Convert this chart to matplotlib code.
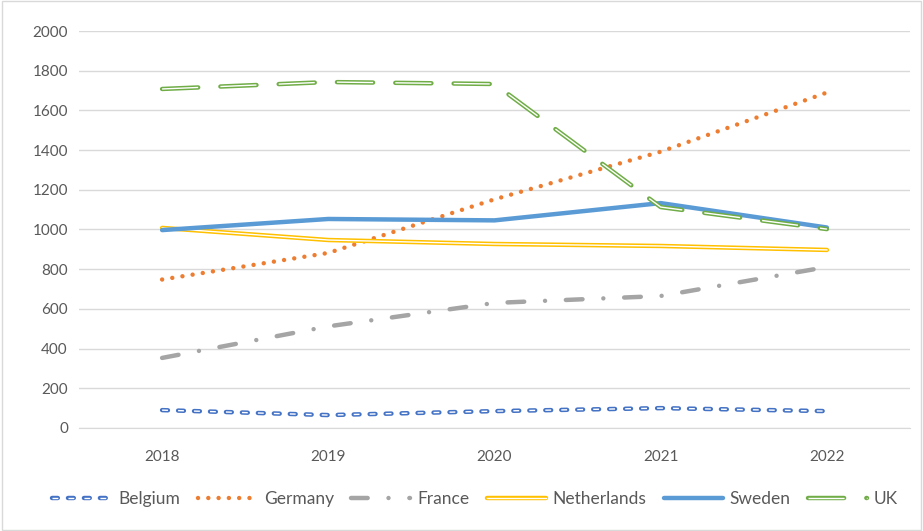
import matplotlib.pyplot as plt
import matplotlib.patheffects as pe
from matplotlib.patches import Rectangle

plt.rcParams["font.family"] = ["Lato", "DejaVu Sans"]
plt.rcParams["lines.scale_dashes"] = False

# --- data ---
years = ["2018", "2019", "2020", "2021", "2022"]
belgium = [90, 65, 85, 100, 85]
germany = [748, 882, 1152, 1392, 1690]
france = [353, 512, 630, 665, 811]
netherlands = [1008, 947, 927, 917, 897]
sweden = [997, 1053, 1046, 1133, 1010]
uk = [1708, 1743, 1733, 1113, 1002]

fig = plt.figure(figsize=(9.23, 5.31), dpi=100)
ax = fig.add_axes([0.0856, 0.194, 0.9003, 0.7476])
x = list(range(len(years)))


def double(color):
    # white core with a coloured outline -> Excel "double" line look
    return [pe.Stroke(linewidth=3.2, foreground=color, capstyle="round"), pe.Normal()]


handles = []

h, = ax.plot(x, belgium, color="white", lw=1.0, dashes=(4.2, 7.3),
             dash_capstyle="butt", path_effects=double("#4472C4"), zorder=3)
handles.append(h)

h, = ax.plot(x, germany, color="#ED7D31", lw=3.2, dashes=(0.01, 7.4),
             dash_capstyle="round", zorder=3)
handles.append(h)

h, = ax.plot(x, france, color="#A5A5A5", lw=3.2, dashes=(12, 15, 0.01, 15),
             dash_capstyle="round", zorder=3)
handles.append(h)

h, = ax.plot(x, netherlands, color="white", lw=1.0,
             path_effects=double("#FFC000"), zorder=3)
handles.append(h)

h, = ax.plot(x, sweden, color="#5B9BD5", lw=3.2, solid_capstyle="round", zorder=3)
handles.append(h)

h, = ax.plot(x, uk, color="white", lw=1.0, dashes=(26, 16),
             dash_capstyle="butt", path_effects=double("#70AD47"), zorder=3.2)
handles.append(h)

ax.set_xlim(-0.5, len(years) - 0.5)
ax.set_ylim(0, 2000)
ax.set_yticks(range(0, 2001, 200))
ax.set_xticks(x)
ax.set_xticklabels(years)
ax.grid(axis="y", color="#D9D9D9", lw=1)
ax.set_axisbelow(True)
for side in ["top", "right", "left"]:
    ax.spines[side].set_visible(False)
ax.spines["bottom"].set_color("#D9D9D9")
ax.tick_params(length=0, labelsize=11, colors="#595959", pad=8)
ax.tick_params(axis="x", pad=16)

labels = ["Belgium", "Germany", "France", "Netherlands", "Sweden", "UK"]
fig.legend(handles, labels, loc="center", bbox_to_anchor=(0.515, 0.06), ncol=6,
           frameon=False, fontsize=12.5, labelcolor="#595959", handlelength=3.4,
           handletextpad=0.4, columnspacing=1.0)

fig.add_artist(Rectangle((0.002, 0.002), 0.996, 0.996, transform=fig.transFigure,
                         fill=False, edgecolor="#D9D9D9", lw=1))

fig.savefig("out.png", dpi=100)
